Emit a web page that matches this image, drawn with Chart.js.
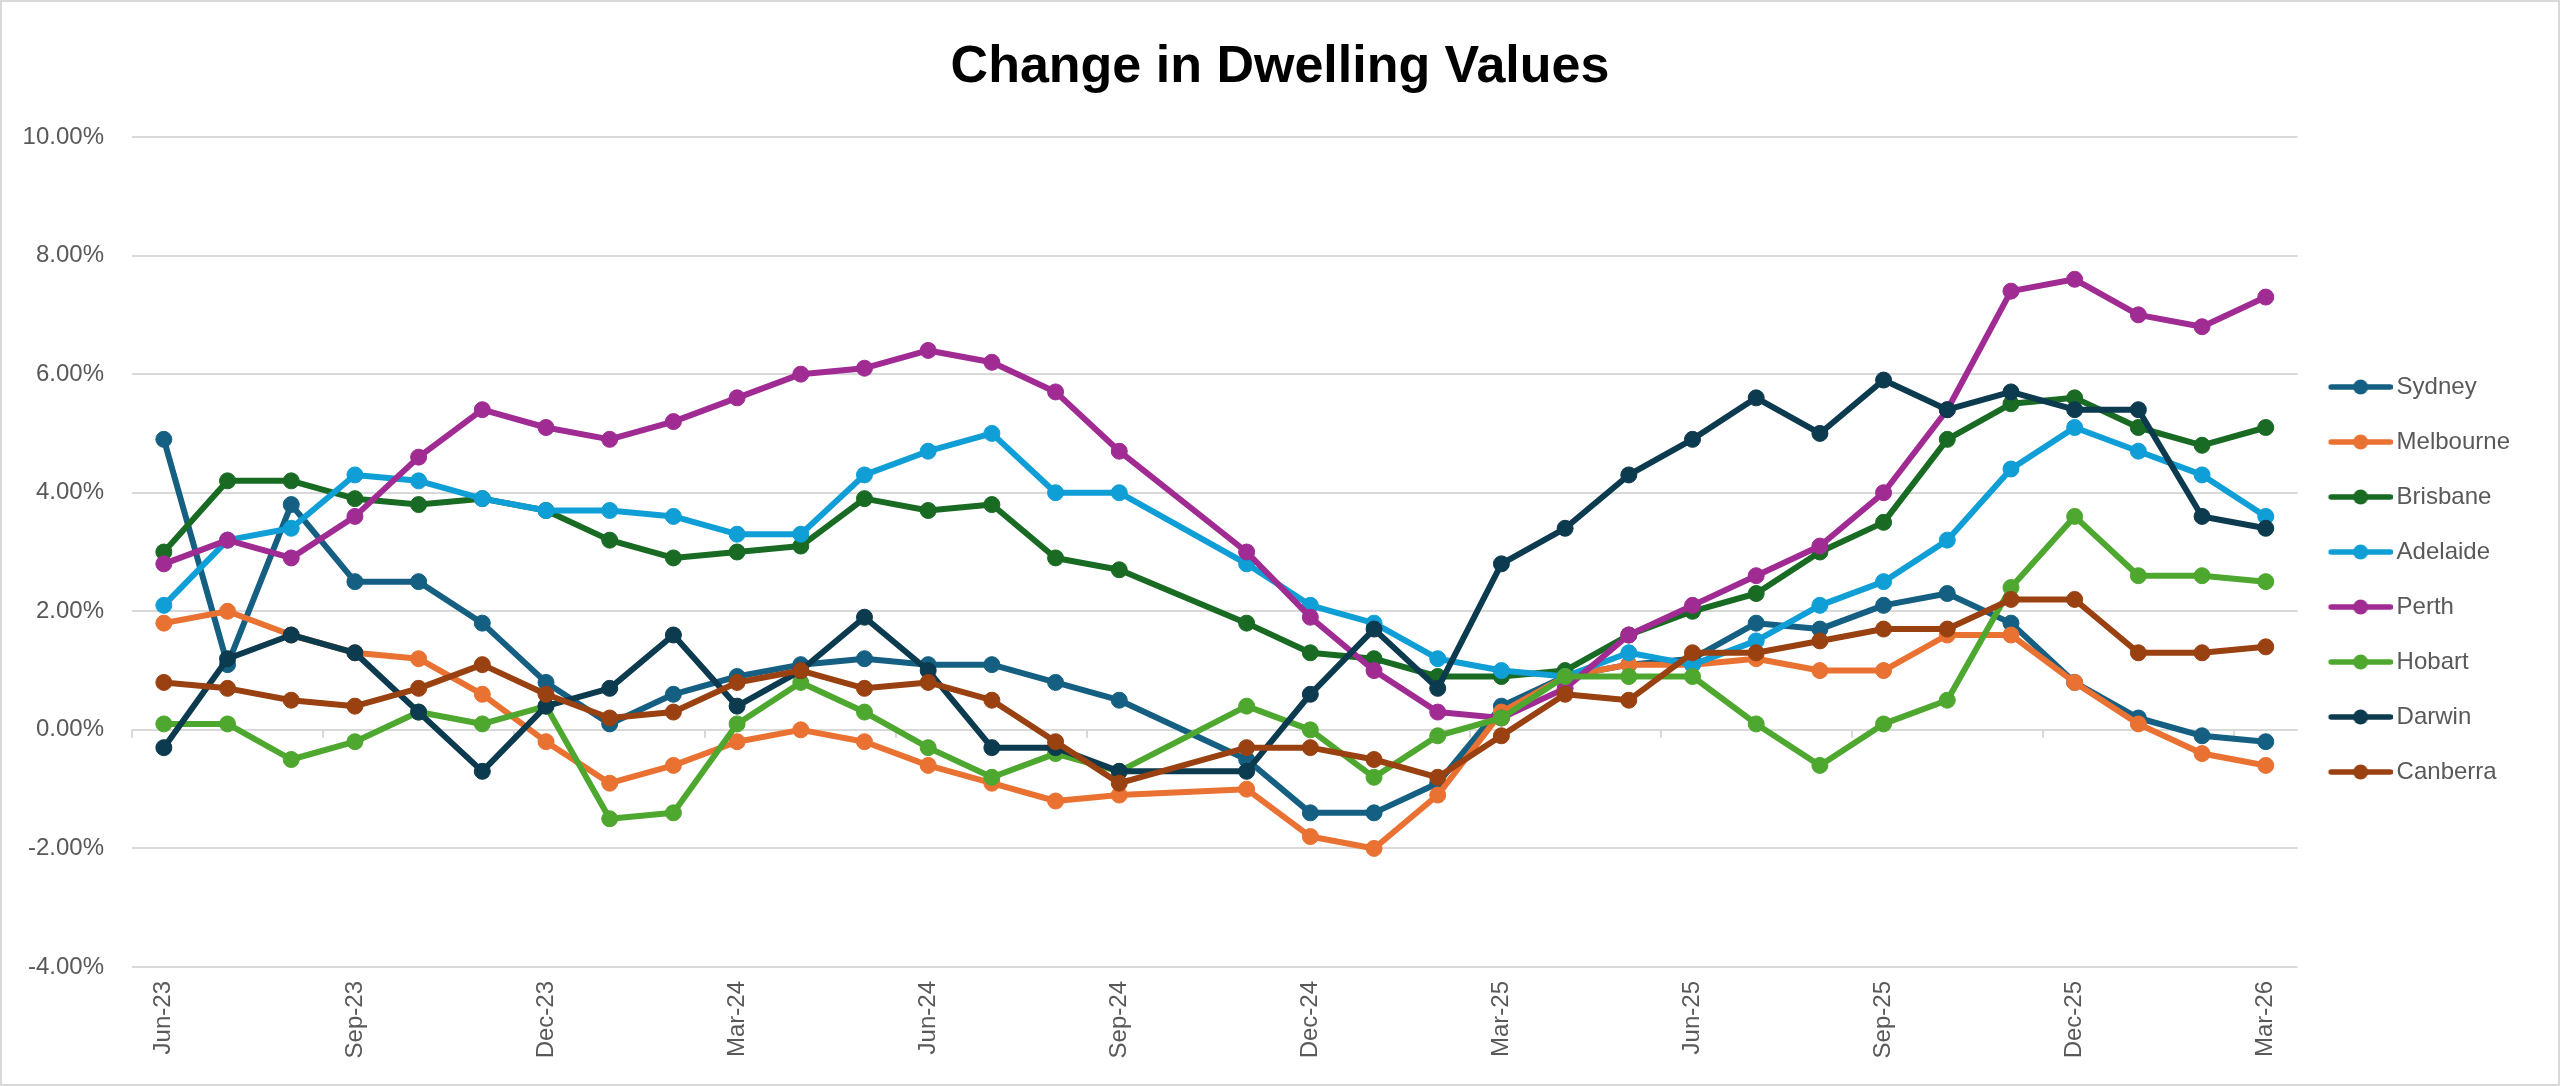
<!DOCTYPE html>
<html lang="en">
<head>
    <meta charset="UTF-8">
    <title>Change in Dwelling Values</title>
    <script src="https://cdn.jsdelivr.net/npm/chart.js"></script>
    <style>
        html, body { margin: 0; padding: 0; background: #ffffff; }
        #chart-container {
            width: 2560px;
            height: 1086px;
            box-sizing: border-box;
            border: 2px solid #d9d9d9;
            position: relative;
        }
        #chart-title {
            position: absolute;
            left: 0;
            right: 0;
            top: 31px;
            line-height: 62px;
            text-align: center;
            font-family: 'Liberation Sans', Arial, sans-serif;
            font-weight: bold;
            font-size: 52px;
            color: #000000;
        }
    </style>
</head>
<body>
    <div id="chart-container">
        <div id="chart-title">Change in Dwelling Values</div>
        <canvas id="myChart"></canvas>
    </div>

    <script>
        // Monthly change in dwelling values (%), Oct-24 has no figure
        var months = ['Jun-23', 'Jul-23', 'Aug-23', 'Sep-23', 'Oct-23', 'Nov-23', 'Dec-23',
            'Jan-24', 'Feb-24', 'Mar-24', 'Apr-24', 'May-24', 'Jun-24', 'Jul-24', 'Aug-24',
            'Sep-24', 'Oct-24', 'Nov-24', 'Dec-24', 'Jan-25', 'Feb-25', 'Mar-25', 'Apr-25',
            'May-25', 'Jun-25', 'Jul-25', 'Aug-25', 'Sep-25', 'Oct-25', 'Nov-25', 'Dec-25',
            'Jan-26', 'Feb-26', 'Mar-26'];

        var sydney    = [4.9, 1.1, 3.8, 2.5, 2.5, 1.8, 0.8, 0.1, 0.6, 0.9, 1.1, 1.2, 1.1, 1.1, 0.8, 0.5, null, -0.5, -1.4, -1.4, -0.9, 0.4, 0.9, 1.1, 1.2, 1.8, 1.7, 2.1, 2.3, 1.8, 0.8, 0.2, -0.1, -0.2];
        var melbourne = [1.8, 2.0, 1.6, 1.3, 1.2, 0.6, -0.2, -0.9, -0.6, -0.2, 0.0, -0.2, -0.6, -0.9, -1.2, -1.1, null, -1.0, -1.8, -2.0, -1.1, 0.3, 0.9, 1.1, 1.1, 1.2, 1.0, 1.0, 1.6, 1.6, 0.8, 0.1, -0.4, -0.6];
        var brisbane  = [3.0, 4.2, 4.2, 3.9, 3.8, 3.9, 3.7, 3.2, 2.9, 3.0, 3.1, 3.9, 3.7, 3.8, 2.9, 2.7, null, 1.8, 1.3, 1.2, 0.9, 0.9, 1.0, 1.6, 2.0, 2.3, 3.0, 3.5, 4.9, 5.5, 5.6, 5.1, 4.8, 5.1];
        var adelaide  = [2.1, 3.2, 3.4, 4.3, 4.2, 3.9, 3.7, 3.7, 3.6, 3.3, 3.3, 4.3, 4.7, 5.0, 4.0, 4.0, null, 2.8, 2.1, 1.8, 1.2, 1.0, 0.9, 1.3, 1.1, 1.5, 2.1, 2.5, 3.2, 4.4, 5.1, 4.7, 4.3, 3.6];
        var perth     = [2.8, 3.2, 2.9, 3.6, 4.6, 5.4, 5.1, 4.9, 5.2, 5.6, 6.0, 6.1, 6.4, 6.2, 5.7, 4.7, null, 3.0, 1.9, 1.0, 0.3, 0.2, 0.7, 1.6, 2.1, 2.6, 3.1, 4.0, 5.4, 7.4, 7.6, 7.0, 6.8, 7.3];
        var hobart    = [0.1, 0.1, -0.5, -0.2, 0.3, 0.1, 0.4, -1.5, -1.4, 0.1, 0.8, 0.3, -0.3, -0.8, -0.4, -0.7, null, 0.4, 0.0, -0.8, -0.1, 0.2, 0.9, 0.9, 0.9, 0.1, -0.6, 0.1, 0.5, 2.4, 3.6, 2.6, 2.6, 2.5];
        var darwin    = [-0.3, 1.2, 1.6, 1.3, 0.3, -0.7, 0.4, 0.7, 1.6, 0.4, 1.0, 1.9, 1.0, -0.3, -0.3, -0.7, null, -0.7, 0.6, 1.7, 0.7, 2.8, 3.4, 4.3, 4.9, 5.6, 5.0, 5.9, 5.4, 5.7, 5.4, 5.4, 3.6, 3.4];
        var canberra  = [0.8, 0.7, 0.5, 0.4, 0.7, 1.1, 0.6, 0.2, 0.3, 0.8, 1.0, 0.7, 0.8, 0.5, -0.2, -0.9, null, -0.3, -0.3, -0.5, -0.8, -0.1, 0.6, 0.5, 1.3, 1.3, 1.5, 1.7, 1.7, 2.2, 2.2, 1.3, 1.3, 1.4];

        var cities = ['Sydney', 'Melbourne', 'Brisbane', 'Adelaide', 'Perth', 'Hobart', 'Darwin', 'Canberra'];
        var cityValues = [sydney, melbourne, brisbane, adelaide, perth, hobart, darwin, canberra];
        var cityColors = ['#156082', '#E97132', '#196B24', '#0F9ED5', '#A02B93', '#4EA72E', '#0C3A4E', '#994111'];

        var textColor = '#595959';
        var gridColor = '#d9d9d9';
        var labelFont = { family: "'Liberation Sans', Arial, sans-serif", size: 24 };

        // small line-with-marker image used as the legend symbol
        function legendSymbol(color) {
            var c = document.createElement('canvas');
            c.width = 72;
            c.height = 20;
            var g = c.getContext('2d');
            g.strokeStyle = color;
            g.lineWidth = 5.5;
            g.lineCap = 'round';
            g.beginPath();
            g.moveTo(10.5, 10);
            g.lineTo(69.5, 10);
            g.stroke();
            g.fillStyle = color;
            g.beginPath();
            g.arc(40, 10, 7.5, 0, Math.PI * 2);
            g.fill();
            return c;
        }

        // tick marks on the zero line, one every three months
        var zeroAxisTicks = {
            id: 'zeroAxisTicks',
            beforeDatasetsDraw: function(chart) {
                var x = chart.scales.x, y = chart.scales.y, ctx = chart.ctx;
                var y0 = y.getPixelForValue(0);
                var half = (x.getPixelForValue(1) - x.getPixelForValue(0)) / 2;
                ctx.save();
                ctx.strokeStyle = gridColor;
                ctx.lineWidth = 2;
                ctx.beginPath();
                for (var i = 0; i <= months.length; i += 3) {
                    var px = Math.round(x.getPixelForValue(i) - half);
                    ctx.moveTo(px, y0);
                    ctx.lineTo(px, y0 + 8);
                }
                ctx.stroke();
                ctx.restore();
            }
        };

        var datasets = cities.map(function(name, i) {
            return {
                label: name,
                data: cityValues[i],
                borderColor: cityColors[i],
                backgroundColor: cityColors[i],
                pointBackgroundColor: cityColors[i],
                pointBorderColor: cityColors[i],
                borderWidth: 6,
                pointRadius: 8,
                pointBorderWidth: 1,
                borderJoinStyle: 'round',
                borderCapStyle: 'round',
                tension: 0,
                spanGaps: true,
                fill: false,
                order: cities.length - i   // later series drawn on top, as in Excel
            };
        });

        var ctx = document.getElementById('myChart').getContext('2d');
        var chart = new Chart(ctx, {
            type: 'line',
            data: { labels: months, datasets: datasets },
            plugins: [zeroAxisTicks],
            options: {
                responsive: true,
                maintainAspectRatio: false,
                animation: false,
                layout: { padding: { left: 0, right: 38, top: 135, bottom: 0 } },
                plugins: {
                    title: { display: false },
                    legend: {
                        position: 'right',
                        align: 'start',
                        fullSize: false,
                        title: { display: true, text: '', font: { size: 10 }, padding: { top: 195, bottom: 0 } },
                        labels: {
                            usePointStyle: true,
                            pointStyleWidth: 56,
                            padding: 31,
                            color: textColor,
                            font: labelFont,
                            generateLabels: function(chart) {
                                return chart.data.datasets.map(function(ds, i) {
                                    return {
                                        text: ds.label,
                                        fillStyle: ds.borderColor,
                                        strokeStyle: ds.borderColor,
                                        lineWidth: 0,
                                        fontColor: textColor,
                                        pointStyle: legendSymbol(ds.borderColor),
                                        hidden: !chart.isDatasetVisible(i),
                                        datasetIndex: i
                                    };
                                });
                            }
                        }
                    },
                    tooltip: { enabled: false }
                },
                scales: {
                    x: {
                        offset: true,
                        grid: { display: false, drawTicks: false },
                        border: { display: false },
                        ticks: {
                            color: textColor,
                            font: labelFont,
                            autoSkip: false,
                            minRotation: 90,
                            maxRotation: 90,
                            padding: 14,
                            callback: function(value, index) {
                                return index % 3 === 0 ? months[index] : '';
                            }
                        },
                        afterFit: function(scale) { scale.height = 117; }
                    },
                    y: {
                        min: -4,
                        max: 10,
                        grid: { color: gridColor, lineWidth: 2, drawTicks: false },
                        border: { display: false },
                        ticks: {
                            stepSize: 2,
                            color: textColor,
                            font: labelFont,
                            padding: 28,
                            callback: function(value) { return value.toFixed(2) + '%'; }
                        },
                        afterFit: function(scale) { scale.width = 130; }
                    }
                }
            }
        });
    </script>
</body>
</html>
